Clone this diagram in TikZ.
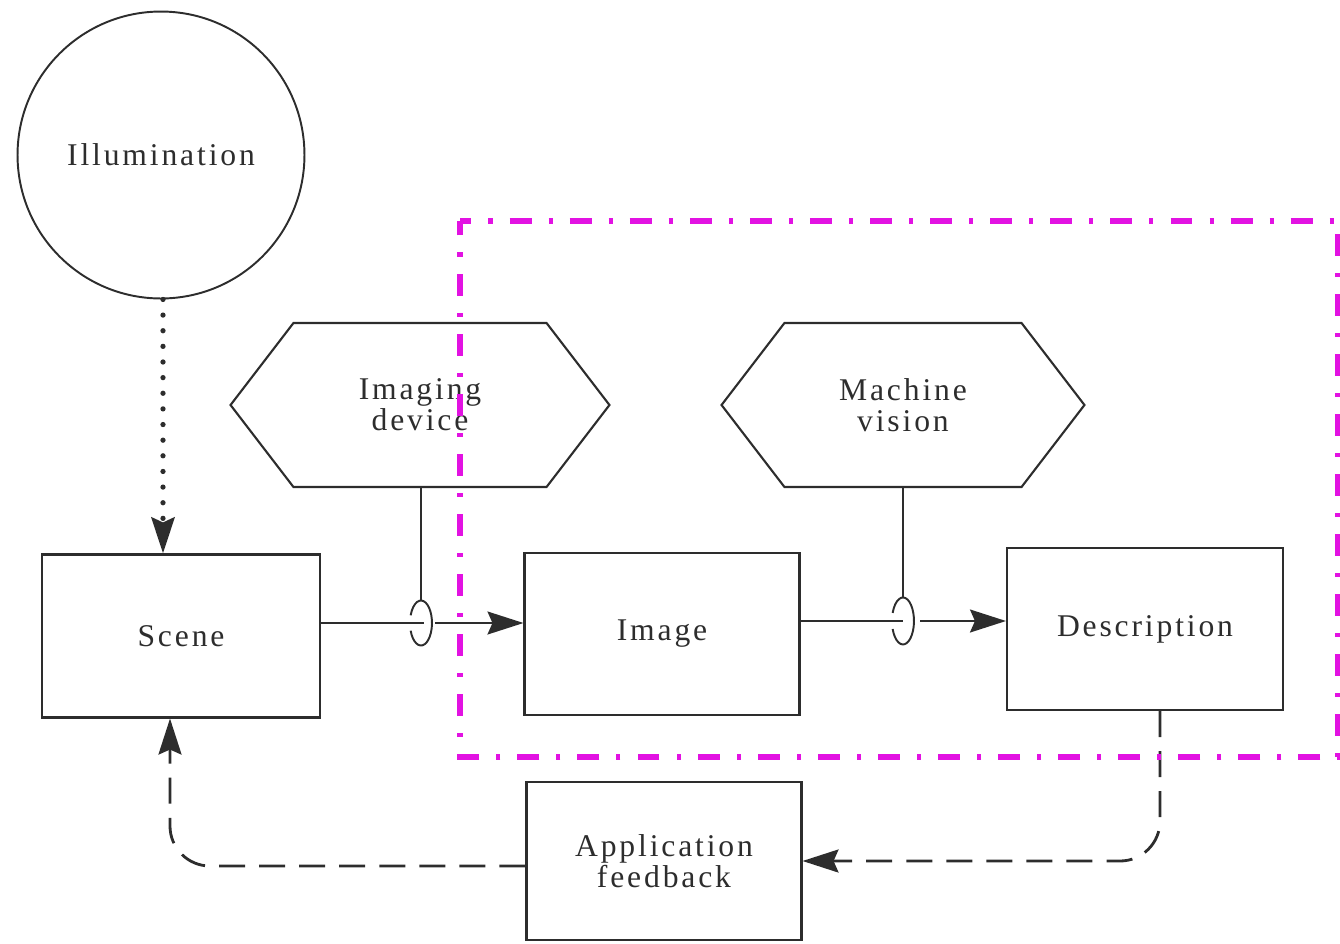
\documentclass[tikz,border=0pt]{standalone}
\usepackage{fontspec}
\setmainfont{Liberation Serif}[LetterSpace=9]
\usetikzlibrary{arrows.meta,shapes.symbols}
\definecolor{ink}{RGB}{45,45,45}
\definecolor{frame}{RGB}{226,18,226}
\begin{document}
\begin{tikzpicture}[x=0.02cm,y=-0.02cm,
  lbl/.style={font=\fontsize{18}{17.5}\selectfont, text=ink, align=center},
  box/.style={lbl, draw=ink, line width=1.2pt, inner sep=0pt},
  hexbox/.style={lbl, draw=ink, line width=1.2pt, signal, signal to=west and east,
    signal pointer angle=105, minimum height=3.28cm, inner sep=0pt},
  link/.style={draw=ink, line width=1.1pt},
  tip/.style={-{Stealth[length=0.72cm,width=0.46cm,inset=0.1cm]}},
  fb/.style={link, line width=1.6pt, dash pattern=on 14.8pt off 8pt, rounded corners=0.8cm},
  dots/.style={link, line width=3pt, line cap=round, dash pattern=on 0pt off 8.9pt},
  rim/.style={draw=frame, line width=3.3pt,
    dash pattern=on 12.5pt off 9.7pt on 2.3pt off 9.7pt, dash phase=6pt}
]
\useasboundingbox (0,0) rectangle (1340,944);

% light source
\node[lbl, draw=ink, line width=1.1pt, circle, minimum size=5.74cm, inner sep=0pt]
  (illum) at (161,155) {Illumination};

% processing stages
\node[box, minimum width=5.56cm, minimum height=3.26cm] (scene) at (181,636) {Scene};
\node[box, minimum width=5.5cm, minimum height=3.24cm] (image) at (662,634) {Image};
\node[box, minimum width=5.52cm, minimum height=3.24cm] (desc) at (1145,629) {Description};
\node[box, minimum width=5.5cm, minimum height=3.16cm] (appfb) at (664,861)
  {Application\\feedback};

% operators
\node[hexbox, minimum width=7.58cm] (imgdev) at (420,405) {Imaging\\device};
\node[hexbox, minimum width=7.26cm] (mvision) at (903,405) {Machine\\vision};

% ring links where an operator acts on a transition
\coordinate (r1) at (421,623);
\coordinate (r2) at (903,621);

\draw[link] (imgdev.south -| r1) -- ([yshift=0.45cm]r1);
\draw[link] (r1) ++(-0.207cm,-0.154cm) arc[start angle=200, end angle=520, x radius=0.22cm, y radius=0.45cm];
\draw[link] (scene.east |- r1) -- ([xshift=0.05cm]r1);
\draw[link, tip] ([xshift=0.28cm]r1) -- (r1 -| image.west);

\draw[link] (mvision.south -| r2) -- ([yshift=0.47cm]r2);
\draw[link] (r2) ++(-0.207cm,-0.16cm) arc[start angle=200, end angle=520, x radius=0.22cm, y radius=0.47cm];
\draw[link] (image.east |- r2) -- (r2);
\draw[link, tip] ([xshift=0.34cm]r2) -- (r2 -| desc.west);

% illumination reaches the scene
\draw[dots, tip] ([xshift=0.04cm]illum.south) -- ([xshift=0.04cm]illum.south |- scene.north);

% feedback loop
\draw[fb, tip] ([xshift=0.3cm]desc.south) |- (appfb.east);
\draw[fb, tip] ([yshift=-0.1cm]appfb.west) -| ([xshift=-0.22cm]scene.south);

% machine vision system boundary
\draw[rim] (460,221) -- (1338,221) -- (1338,757) -- (460,757) -- cycle;
\end{tikzpicture}
\end{document}
